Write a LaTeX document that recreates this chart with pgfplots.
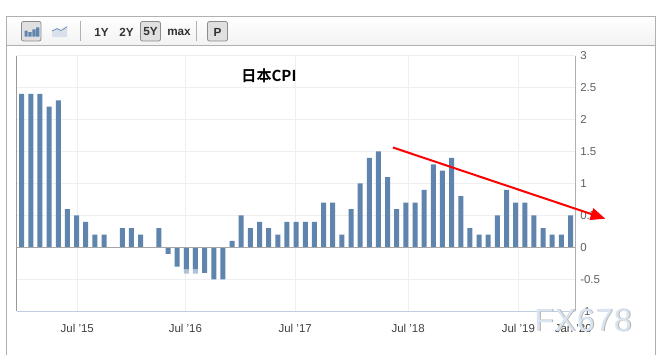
\documentclass[border=0pt]{standalone}
\usepackage{pgfplots}
\pgfplotsset{compat=1.18}
\usepackage{fontspec}
\setmainfont{Liberation Sans}
\newfontfamily\cjk{Noto Sans CJK SC}[BoldFont={* Bold}]
\usetikzlibrary{arrows.meta}
\definecolor{barblue}{HTML}{5F85AE}
\definecolor{barlight}{HTML}{AFC2D7}
\definecolor{gridc}{HTML}{EFEFEF}
\definecolor{framec}{HTML}{B0B0B0}
\definecolor{tickc}{HTML}{606060}
\definecolor{wmark}{HTML}{D8E4F2}
\definecolor{wshadow}{HTML}{B4B0A8}
\pgfplotstableread{
x y
0 2.4
1 2.4
2 2.4
3 2.2
4 2.3
5 0.6
6 0.5
7 0.4
8 0.2
9 0.2
10 0
11 0.3
12 0.3
13 0.2
14 0
15 0.3
16 -0.1
17 -0.3
18 -0.34
19 -0.34
20 -0.4
21 -0.5
22 -0.5
23 0.1
24 0.5
25 0.3
26 0.4
27 0.3
28 0.2
29 0.4
30 0.4
31 0.4
32 0.4
33 0.7
34 0.7
35 0.2
36 0.6
37 1.0
38 1.4
39 1.5
40 1.1
41 0.6
42 0.7
43 0.7
44 0.9
45 1.3
46 1.2
47 1.4
48 0.8
49 0.3
50 0.2
51 0.2
52 0.5
53 0.9
54 0.7
55 0.7
56 0.5
57 0.3
58 0.2
59 0.2
60 0.5
}\cpi
\newcommand{\wm}{F\kern0.6pt X\kern0.6pt 6\kern0.6pt 7\kern0.6pt 8}
\begin{document}
\begin{tikzpicture}[font=\fontsize{8.6pt}{10pt}\selectfont]
\begin{scope}[x=0.75pt,y=-0.75pt]
\path[use as bounding box] (0,0) rectangle (662,355);
\fill[white] (0,0) rectangle (662,355);
\shade[top color=white,bottom color=black!5] (6.5,16.5) rectangle (655,45.5);
\draw[framec,line width=0.75pt] (6.5,355) -- (6.5,16.5) -- (655,16.5) -- (655,355);
\draw[framec,line width=0.75pt] (6.5,45.5) -- (655,45.5);
\draw[black!45,fill=black!12,rounded corners=1.5pt,line width=0.6pt] (21.5,21.5) rectangle (41,41);
\fill[barblue] (24.5,30.7) rectangle (27.7,36.6) (28.4,32) rectangle (31.6,36.6) (32.3,29.3) rectangle (35.5,36.6) (36.2,27.3) rectangle (39.4,36.6);
\fill[barblue!25] (52,31) -- (57,28.5) -- (61,30.5) -- (67,26.7) -- (67,37) -- (52,37) -- cycle;
\draw[barblue,line width=0.5pt] (52,31) -- (57,28.5) -- (61,30.5) -- (67,26.7);
\draw[framec,line width=0.75pt] (80.5,21) -- (80.5,41);
\draw[black!45,fill=black!12,rounded corners=1.5pt,line width=0.6pt] (140.5,21.5) rectangle (160.5,41);
\draw[framec,line width=0.75pt] (196.5,21) -- (196.5,41);
\draw[black!45,fill=black!12,rounded corners=1.5pt,line width=0.6pt] (207.5,21.5) rectangle (227.5,41);
\foreach \xx/\tt in {101.5/1Y,126.5/2Y,150.5/5Y,179/max,217.5/P}
  \node[text=black!80,font=\fontsize{8.8pt}{10pt}\selectfont\bfseries,inner sep=0pt] at (\xx,32) {\tt};
\end{scope}
\begin{axis}[
  at={(12.375pt,-233.475pt)},anchor=south west,
  scale only axis,width=419.1pt,height=191.8pt,
  xmin=-0.568,xmax=60.52,ymin=-1,ymax=3,
  axis y line*=right,axis x line*=bottom,
  y axis line style={framec,line width=0.75pt,-},
  x axis line style={draw=none,-},
  ytick={-1,-0.5,0,0.5,1,1.5,2,2.5,3},
  yticklabels={-1,-0.5,0,0.5,1,1.5,2,2.5,3},
  xtick={6.08,17.9,29.9,42.25,54.3},
  xticklabels={Jul '15,Jul '16,Jul '17,Jul '18,Jul '19},
  extra x ticks={60.3},extra x tick labels={Jan '20},
  extra x tick style={grid=none},
  tick style={draw=none},
  ymajorgrids,xmajorgrids,
  grid style={gridc,line width=0.75pt},
  yticklabel style={text=tickc,anchor=west,xshift=0.2pt},
  xticklabel style={text=black!75,yshift=-2pt},
  /pgf/number format/assume math mode=true,
  clip=false,
  ybar,bar width=3.75pt,
]
\addplot[draw=none,fill=barlight,bar shift=0pt,forget plot] coordinates {(18,-0.41) (19,-0.41)};
\addplot[draw=none,fill=barblue,bar shift=0pt] table[x=x,y=y] {\cpi};
\end{axis}
\begin{axis}[
  at={(12.375pt,-233.475pt)},anchor=south west,
  scale only axis,width=419.1pt,height=191.8pt,
  xmin=-0.568,xmax=60.52,ymin=-1,ymax=3,
  hide axis,clip=false,
]
\addplot[black!35,line width=0.75pt,forget plot] coordinates {(-0.568,0) (60.52,0)};
\addplot[black!40,line width=0.75pt,forget plot] coordinates {(-0.568,-1) (-0.568,3)};
\addplot[color=barlight!80,line width=0.75pt,forget plot] coordinates {(-0.568,-1) (60.52,-1)};
\addplot[red,line width=1.5pt,-{Triangle[length=11pt,width=9pt]}] coordinates {(40.58,1.5625) (63.8,0.448)};
\end{axis}
\begin{scope}[x=0.75pt,y=-0.75pt]
\node[font=\fontsize{11.3pt}{12pt}\selectfont\cjk\bfseries,inner sep=0pt] at (269,75.5) {日本CPI};
\node[text=wshadow,font=\fontsize{24pt}{26pt}\selectfont,inner sep=0pt,anchor=base] at (584,331.5) {\wm};
\node[text=wmark,font=\fontsize{24pt}{26pt}\selectfont,inner sep=0pt,anchor=base] at (583,331) {\wm};
\end{scope}
\end{tikzpicture}
\end{document}
